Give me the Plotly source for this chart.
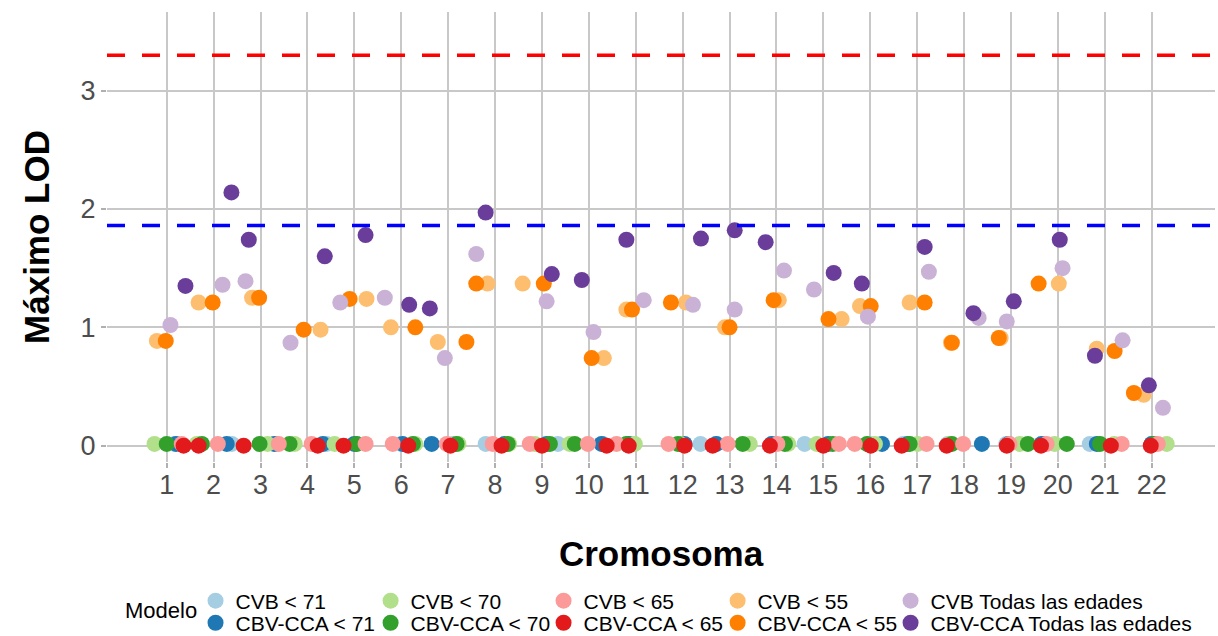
import plotly.graph_objects as go

# Chromosome ticks on the x axis
chromosomes = list(range(1, 23))
tick_labels = [str(c) for c in chromosomes]
y_ticks = [0, 1, 2, 3]

# Significance thresholds (suggestive / significant LOD)
lod_significant = 3.30
lod_suggestive = 1.86

# Model names and their colours (ColorBrewer "Paired")
models = [
    "CVB < 71", "CBV-CCA < 71",
    "CVB < 70", "CBV-CCA < 70",
    "CVB < 65", "CBV-CCA < 65",
    "CVB < 55", "CBV-CCA < 55",
    "CVB Todas las edades", "CBV-CCA Todas las edades",
]
colors = [
    "#A6CEE3", "#1F78B4",
    "#B2DF8A", "#33A02C",
    "#FB9A99", "#E31A1C",
    "#FDBF6F", "#FF7F00",
    "#CAB2D6", "#6A3D9A",
]

# Maximum LOD per chromosome for each model; x is the jittered chromosome position
x_cvb71 = [1.17, 2.39, 3.30, 4.41, 5.05, 6.00, 7.10, 7.80, 9.34, 10.30, 10.90,
           12.38, 12.70, 13.90, 14.60, 16.00, 16.70, 17.65, 18.90, 19.70, 20.68, 22.00]
y_cvb71 = [0.015, 0.015, 0.015, 0.015, 0.015, 0.015, 0.015, 0.015, 0.015, 0.015, 0.015,
           0.015, 0.015, 0.015, 0.015, 0.015, 0.015, 0.015, 0.015, 0.015, 0.015, 0.015]

x_cca71 = [1.20, 2.28, 3.30, 4.33, 5.00, 6.03, 6.65, 8.20, 9.10, 10.27, 10.85,
           12.04, 12.72, 13.90, 15.10, 16.25, 16.80, 18.38, 18.95, 19.65, 20.83, 22.00]
y_cca71 = [0.015, 0.015, 0.015, 0.015, 0.015, 0.015, 0.015, 0.015, 0.015, 0.015, 0.015,
           0.015, 0.015, 0.015, 0.015, 0.015, 0.015, 0.015, 0.015, 0.015, 0.015, 0.015]

x_cvb70 = [0.74, 1.64, 3.15, 3.73, 4.58, 6.30, 7.22, 8.30, 8.85, 9.59, 10.98,
           11.95, 13.43, 14.25, 14.86, 16.10, 17.01, 17.70, 19.19, 19.93, 21.20, 22.32]
y_cvb70 = [0.015, 0.015, 0.015, 0.015, 0.015, 0.015, 0.015, 0.015, 0.015, 0.015, 0.015,
           0.015, 0.015, 0.015, 0.015, 0.015, 0.015, 0.015, 0.015, 0.015, 0.015, 0.015]

x_cca70 = [1.00, 1.75, 2.98, 3.62, 5.05, 6.25, 7.18, 8.27, 9.17, 9.70, 10.80,
           11.90, 13.28, 14.18, 15.20, 15.93, 16.84, 17.74, 19.36, 20.19, 20.90, 22.05]
y_cca70 = [0.015, 0.015, 0.015, 0.015, 0.015, 0.015, 0.015, 0.015, 0.015, 0.015, 0.015,
           0.015, 0.015, 0.015, 0.015, 0.015, 0.015, 0.015, 0.015, 0.015, 0.015, 0.015]

x_cvb65 = [1.32, 2.09, 3.39, 4.09, 5.24, 5.82, 6.97, 7.95, 8.74, 9.98, 10.59,
           11.70, 12.96, 14.02, 15.33, 15.67, 17.20, 17.98, 18.97, 19.76, 21.36, 22.13]
y_cvb65 = [0.015, 0.015, 0.015, 0.015, 0.015, 0.015, 0.015, 0.015, 0.015, 0.015, 0.015,
           0.015, 0.015, 0.015, 0.015, 0.015, 0.015, 0.015, 0.015, 0.015, 0.015, 0.015]

x_cca65 = [1.36, 1.68, 2.64, 4.22, 4.77, 6.15, 7.05, 8.14, 9.00, 10.38, 10.85,
           12.04, 12.64, 13.86, 15.00, 16.01, 16.67, 17.63, 18.91, 19.64, 21.13, 21.98]
y_cca65 = [0.0, 0.0, 0.0, 0.0, 0.0, 0.0, 0.0, 0.0, 0.0, 0.0, 0.0,
           0.0, 0.0, 0.0, 0.0, 0.0, 0.0, 0.0, 0.0, 0.0, 0.0, 0.0]

x_cvb55 = [0.79, 1.68, 2.82, 4.28, 5.26, 5.78, 6.78, 7.84, 8.59, 10.32, 10.80,
           12.07, 12.90, 14.05, 15.39, 15.78, 16.84, 17.72, 18.78, 20.02, 20.83, 21.83]
y_cvb55 = [0.885, 1.21, 1.25, 0.98, 1.24, 1.00, 0.876, 1.37, 1.37, 0.74, 1.15,
           1.21, 1.00, 1.23, 1.07, 1.18, 1.21, 0.87, 0.91, 1.37, 0.82, 0.43]

x_cca55 = [0.98, 1.98, 2.97, 3.92, 4.90, 6.30, 7.39, 7.60, 9.04, 10.06, 10.92,
           11.75, 13.00, 13.94, 15.11, 16.01, 17.16, 17.74, 18.74, 19.59, 21.21, 21.62]
y_cca55 = [0.885, 1.21, 1.25, 0.98, 1.24, 1.00, 0.876, 1.37, 1.37, 0.74, 1.15,
           1.21, 1.00, 1.23, 1.07, 1.18, 1.21, 0.87, 0.91, 1.37, 0.80, 0.445]

x_cvb_all = [1.08, 2.19, 2.68, 3.64, 4.70, 5.65, 6.93, 7.60, 9.10, 10.10, 11.17,
             12.22, 13.11, 14.16, 14.80, 15.95, 17.25, 18.31, 18.91, 20.10, 21.38, 22.24]
y_cvb_all = [1.02, 1.36, 1.39, 0.87, 1.21, 1.25, 0.74, 1.62, 1.22, 0.96, 1.23,
             1.19, 1.15, 1.48, 1.32, 1.09, 1.47, 1.08, 1.05, 1.50, 0.89, 0.32]

x_cca_all = [1.40, 2.38, 2.75, 4.37, 5.24, 6.17, 6.61, 7.80, 9.21, 9.85, 10.80,
             12.39, 13.11, 13.77, 15.22, 15.82, 17.16, 18.20, 19.06, 20.04, 20.79, 21.94]
y_cca_all = [1.35, 2.14, 1.74, 1.60, 1.78, 1.19, 1.16, 1.97, 1.45, 1.40, 1.74,
             1.75, 1.82, 1.72, 1.46, 1.37, 1.68, 1.12, 1.22, 1.74, 0.76, 0.51]

series_x = [x_cvb71, x_cca71, x_cvb70, x_cca70, x_cvb65, x_cca65,
            x_cvb55, x_cca55, x_cvb_all, x_cca_all]
series_y = [y_cvb71, y_cca71, y_cvb70, y_cca70, y_cvb65, y_cca65,
            y_cvb55, y_cca55, y_cvb_all, y_cca_all]

FONT = "Liberation Sans, Arial, sans-serif"

# Legend grid: 5 columns (age cut-offs), 2 rows (CVB on top, CBV-CCA below)
legend_col_x = [0.0799, 0.2379, 0.3940, 0.5511, 0.7072]
legend_row_y = [-0.309, -0.358]

fig = go.Figure()
legend_layouts = {}
for i, (name, col, xs, ys) in enumerate(zip(models, colors, series_x, series_y)):
    key = "legend" if i == 0 else f"legend{i + 1}"
    fig.add_trace(go.Scatter(
        x=xs, y=ys, mode="markers", name=name,
        marker=dict(color=col, size=16, line=dict(width=0)),
        legend=key,
        hovertemplate=name + "<br>x=%{x}<br>LOD=%{y}<extra></extra>",
    ))
    legend_layouts[key] = dict(
        x=legend_col_x[i // 2], y=legend_row_y[i % 2],
        xanchor="left", yanchor="middle", orientation="h",
        font=dict(family=FONT, size=21, color="#000000"),
        bgcolor="rgba(0,0,0,0)", itemclick=False, itemdoubleclick=False,
    )

dash_pattern = "18px,17px"
fig.add_hline(y=lod_significant, line=dict(color="#FF0000", width=3.5, dash=dash_pattern), layer="above")
fig.add_hline(y=lod_suggestive, line=dict(color="#0000FF", width=3.5, dash=dash_pattern), layer="above")

fig.update_layout(
    width=1218, height=636,
    margin=dict(l=107, r=3, t=12, b=174, autoexpand=False),
    paper_bgcolor="white", plot_bgcolor="white",
    font=dict(family=FONT),
    showlegend=True,
    xaxis=dict(
        range=[-0.273, 23.35],
        tickmode="array", tickvals=chromosomes, ticktext=tick_labels,
        showgrid=True, gridcolor="#C8C8C8", gridwidth=1.5,
        zeroline=False, showline=False,
        ticks="outside", ticklen=5, tickcolor="#B0B0B0", tickwidth=1.5,
        ticklabelstandoff=-6,
        tickfont=dict(family=FONT, size=27, color="#4D4D4D"),
        title=dict(text="<b>Cromosoma</b>", standoff=42,
                   font=dict(family=FONT, size=35, color="#000000")),
    ),
    yaxis=dict(
        range=[-0.138, 3.665],
        tickmode="array", tickvals=y_ticks, ticktext=[str(v) for v in y_ticks],
        showgrid=True, gridcolor="#C8C8C8", gridwidth=1.5,
        zeroline=False, showline=False,
        ticks="outside", ticklen=5, tickcolor="#B0B0B0", tickwidth=1.5,
        tickfont=dict(family=FONT, size=27, color="#4D4D4D"),
        title=dict(text="<b>Máximo LOD</b>", standoff=20,
                   font=dict(family=FONT, size=35, color="#000000")),
    ),
    annotations=[dict(
        text="Modelo", xref="paper", yref="paper", x=0.0487, y=-0.331,
        xanchor="center", yanchor="middle", showarrow=False,
        font=dict(family=FONT, size=22, color="#000000"),
    )],
    **legend_layouts,
)

fig.write_html("out.html")
